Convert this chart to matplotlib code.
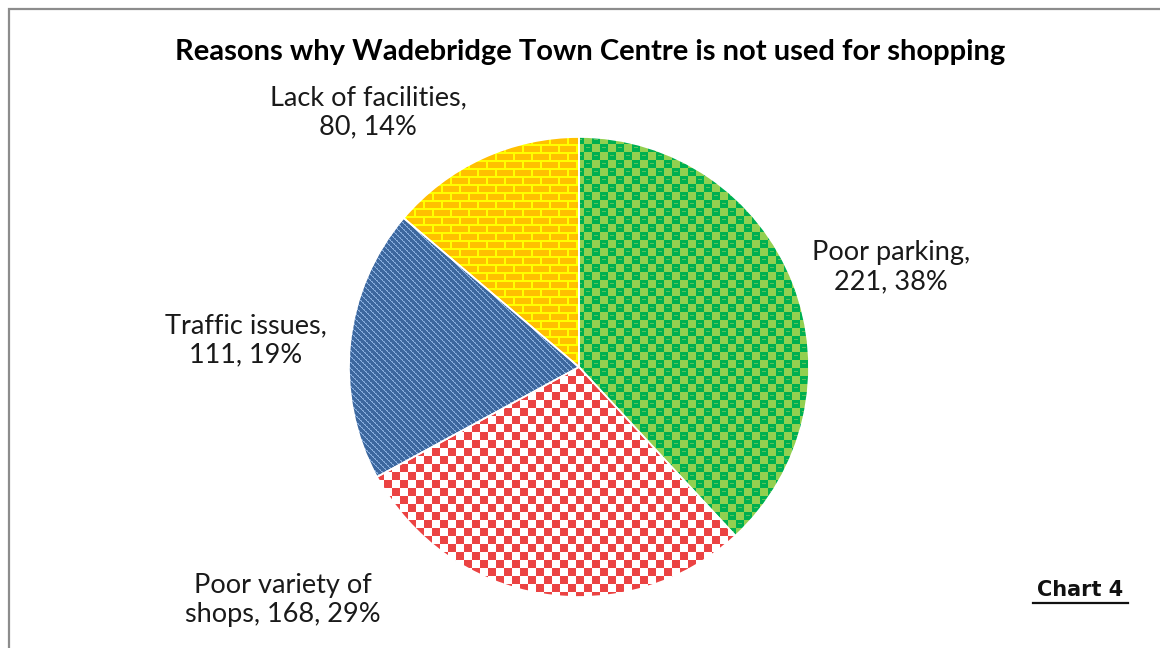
import numpy as np
import matplotlib
matplotlib.use("Agg")
import matplotlib.pyplot as plt
from matplotlib.patches import Rectangle

plt.rcParams['font.family'] = ['Lato', 'DejaVu Sans']

# data
categories = ['Poor parking', 'Poor variety of shops', 'Traffic issues', 'Lack of facilities']
counts = [221, 168, 111, 80]
label_lines = ['Poor parking,\n{v}, {p}%',
               'Poor variety of\nshops, {v}, {p}%',
               'Traffic issues,\n{v}, {p}%',
               'Lack of facilities,\n{v}, {p}%']

W, H = 1160, 648
fig = plt.figure(figsize=(W / 100, H / 100), dpi=100)
ax = fig.add_axes([0, 0, 1, 1])

# pixel grid for the fill patterns
yy, xx = np.mgrid[0:H, 0:W]


def hexrgb(h):
    return np.array(matplotlib.colors.to_rgb(h))


def fill(mask, c_on, c_off):
    img = np.empty((H, W, 3))
    img[:] = hexrgb(c_off)
    img[mask] = hexrgb(c_on)
    return img


def green_pat():
    chk = ((xx // 8) + (yy // 8)) % 2 == 0
    img = fill(chk, '#92D050', '#00B050')
    bar = (~chk) & (xx % 8 >= 2) & (xx % 8 <= 5) & (yy % 8 == 3)
    img[bar] = hexrgb('#5CC25A')
    return img


def red_pat():
    chk = ((xx // 8) + (yy // 8)) % 2 == 0
    return fill(chk, '#EB4343', '#FFFFFF')


def blue_pat():
    d = (xx - yy) % 6
    img = fill(d == 0, '#8DB3E2', '#3C679E')
    img[(d == 1) & ((xx + yy) % 4 < 2)] = hexrgb('#6E95C8')
    return img


def yellow_pat():
    row = yy // 8
    off = (row % 2) * 9
    mortar = (yy % 8 < 2) | ((xx + off) % 18 < 2)
    return fill(mortar, '#FFFF00', '#FFC000')


patterns = [green_pat(), red_pat(), blue_pat(), yellow_pat()]

cx, cy, r = 579, H - 367, 230
wedges, _ = ax.pie(counts, startangle=90, counterclock=False,
                   center=(cx, cy), radius=r,
                   wedgeprops=dict(facecolor='none', edgecolor='white', linewidth=1.2))

for w, pat in zip(wedges, patterns):
    w.set_zorder(3)
    im = ax.imshow(pat, extent=(0, W, 0, H), origin='upper', zorder=2,
                   interpolation='nearest')
    im.set_clip_path(w)

total = sum(counts)
label_xy = [(891, H - 267), (283, H - 600), (246, H - 340), (368, H - 112)]
for fmt, v, (lx, ly) in zip(label_lines, counts, label_xy):
    pct = round(100 * v / total)
    ax.text(lx, ly, fmt.format(v=v, p=pct), ha='center', va='center',
            fontsize=19.5, color='#1a1a1a', linespacing=1.2, zorder=5)

ax.text(590, H - 52, 'Reasons why Wadebridge Town Centre is not used for shopping',
        ha='center', va='center', fontsize=21, fontweight='bold', color='black')

ax.text(1080, H - 590, 'Chart 4', ha='center', va='center', fontsize=15,
        fontweight='bold', family='DejaVu Sans', color='#111111')
ax.plot([1033, 1128], [H - 603, H - 603], color='#111111', lw=1.6)

ax.add_patch(Rectangle((9, -20), W + 40, H - 9 + 20, facecolor='none',
                       edgecolor='#8C8C8C', lw=1.6, zorder=6))

ax.set_xlim(0, W)
ax.set_ylim(0, H)
ax.set_aspect('auto')
ax.axis('off')

fig.savefig('out.png', dpi=100)
